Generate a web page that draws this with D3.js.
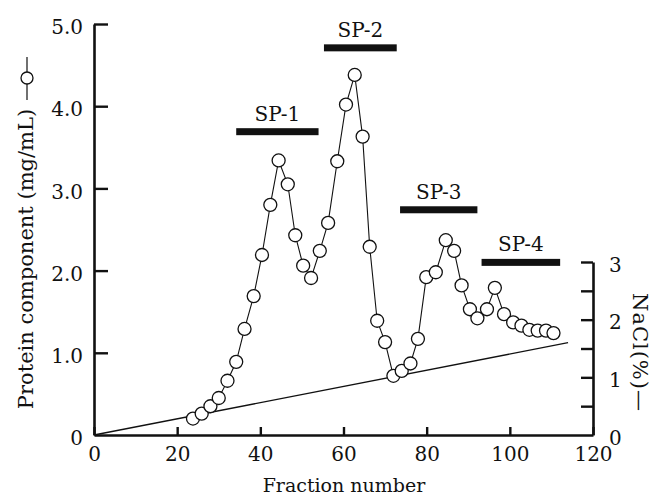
<!DOCTYPE html>
<html>
<head>
<meta charset="utf-8">
<script src="https://cdn.jsdelivr.net/npm/d3@7"></script>
<style>
  html, body { margin: 0; padding: 0; background: #fff; }
  svg { display: block; }
  text { font-family: "DejaVu Serif", serif; fill: #111; }
</style>
</head>
<body>
<svg id="chart" width="654" height="500"></svg>
<script>
// ---- data ----
const fractions = [23.8, 25.9, 28.0, 30.0, 32.1, 34.2, 36.2, 38.4, 40.4, 42.4,
                   44.4, 46.6, 48.4, 50.3, 52.2, 54.3, 56.3, 58.5, 60.6, 62.7,
                   64.6, 66.3, 68.1, 70.0, 72.0, 74.0, 76.1, 77.9, 79.9, 82.2,
                   84.6, 86.6, 88.4, 90.4, 92.2, 94.5, 96.4, 98.6, 100.8, 102.8,
                   104.7, 106.7, 108.7, 110.5];
const protein   = [0.20, 0.26, 0.35, 0.45, 0.66, 0.89, 1.29, 1.69, 2.19, 2.80,
                   3.34, 3.05, 2.43, 2.06, 1.91, 2.24, 2.58, 3.33, 4.02, 4.38,
                   3.63, 2.29, 1.39, 1.13, 0.72, 0.78, 0.87, 1.17, 1.92, 1.98,
                   2.37, 2.24, 1.82, 1.53, 1.42, 1.53, 1.79, 1.47, 1.37, 1.33,
                   1.28, 1.27, 1.27, 1.24];
const naclFractions = [0, 114];
const naclValues    = [0, 1.6];

const spNames = ["SP-1", "SP-2", "SP-3", "SP-4"];
const spStart = [34.2, 55.3, 73.6, 93.2];
const spEnd   = [54.0, 72.8, 92.2, 112.1];
const spLevel = [3.69, 4.71, 2.74, 2.10];   // in protein (mg/mL) units

const xTicks = [0, 20, 40, 60, 80, 100, 120];
const yTicks = [0, 1, 2, 3, 4, 5];
const yTickLabels = ["0", "1.0", "2.0", "3.0", "4.0", "5.0"];
const rTicks = [0, 0.5, 1, 1.5, 2, 2.5, 3];
const rTickLabels = ["0", "", "1", "", "2", "", "3"];

// ---- scales ----
const svg = d3.select("#chart");
const x  = d3.scaleLinear().domain([0, 120]).range([94, 593]);
const y  = d3.scaleLinear().domain([0, 5]).range([435, 24]);
const yR = d3.scaleLinear().domain([0, 3]).range([435, 262]);

// ---- axes ----
const gx = svg.append("g").attr("transform", "translate(0,435)")
  .call(d3.axisBottom(x).tickValues(xTicks).tickSizeInner(-8).tickSizeOuter(0).tickPadding(12));
const gy = svg.append("g").attr("transform", "translate(94,0)")
  .call(d3.axisLeft(y).tickValues(yTicks).tickSizeInner(-14).tickSizeOuter(0).tickPadding(11)
    .tickFormat((d, i) => yTickLabels[i]));
const gr = svg.append("g").attr("transform", "translate(593,0)")
  .call(d3.axisRight(yR).tickValues(rTicks).tickSizeInner(-12).tickSizeOuter(0).tickPadding(16)
    .tickFormat((d, i) => rTickLabels[i]));

[gx, gy, gr].forEach(g => {
  g.select(".domain").attr("stroke", "#111").attr("stroke-width", 2.6);
  g.selectAll(".tick line").attr("stroke", "#111").attr("stroke-width", 2.4);
  g.selectAll(".tick text").attr("font-family", "DejaVu Serif, serif").attr("font-size", 20).attr("fill", "#111");
});
gy.selectAll(".tick text").attr("dy", "0.48em");
gr.selectAll(".tick text").attr("dy", "0.45em");
gy.selectAll(".tick line").filter(d => d === 0).remove();
gr.selectAll(".tick line").filter(d => d === 0).remove();

// ---- NaCl gradient line ----
const naclPts = naclFractions.map((f, i) => [f, naclValues[i]]);
svg.append("path")
  .attr("d", d3.line().x(d => x(d[0])).y(d => yR(d[1]))(naclPts))
  .attr("fill", "none").attr("stroke", "#111").attr("stroke-width", 1.3);

// ---- protein line + circles ----
const pts = fractions.map((f, i) => [f, protein[i]]);
svg.append("path")
  .attr("d", d3.line().x(d => x(d[0])).y(d => y(d[1]))(pts))
  .attr("fill", "none").attr("stroke", "#111").attr("stroke-width", 1.1);
svg.append("g").selectAll("circle").data(pts).join("circle")
  .attr("cx", d => x(d[0])).attr("cy", d => y(d[1])).attr("r", 6.5)
  .attr("fill", "#fff").attr("stroke", "#111").attr("stroke-width", 1.3);

// ---- SP bars and labels ----
spNames.forEach((name, i) => {
  svg.append("rect")
    .attr("x", x(spStart[i])).attr("width", x(spEnd[i]) - x(spStart[i]))
    .attr("y", y(spLevel[i]) - 3.5).attr("height", 7)
    .attr("fill", "#111");
  svg.append("text")
    .attr("x", (x(spStart[i]) + x(spEnd[i])) / 2)
    .attr("y", y(spLevel[i]) - 11)
    .attr("text-anchor", "middle").attr("font-size", 20)
    .text(name);
});

// ---- axis titles ----
svg.append("text")
  .attr("x", 344).attr("y", 492).attr("text-anchor", "middle").attr("font-size", 19)
  .text("Fraction number");

svg.append("text")
  .attr("transform", "translate(33,259) rotate(-90)")
  .attr("text-anchor", "middle").attr("font-size", 21)
  .text("Protein component (mg/mL)");
// legend symbol for protein: line with open circle
svg.append("line").attr("x1", 27).attr("x2", 27).attr("y1", 57).attr("y2", 100)
  .attr("stroke", "#111").attr("stroke-width", 1.2);
svg.append("circle").attr("cx", 27).attr("cy", 78).attr("r", 6)
  .attr("fill", "#fff").attr("stroke", "#111").attr("stroke-width", 1.3);

svg.append("text")
  .attr("transform", "translate(633,293) rotate(90)")
  .attr("text-anchor", "start").attr("font-size", 21).attr("letter-spacing", 1)
  .text("NaCl(%)—");
</script>
</body>
</html>
